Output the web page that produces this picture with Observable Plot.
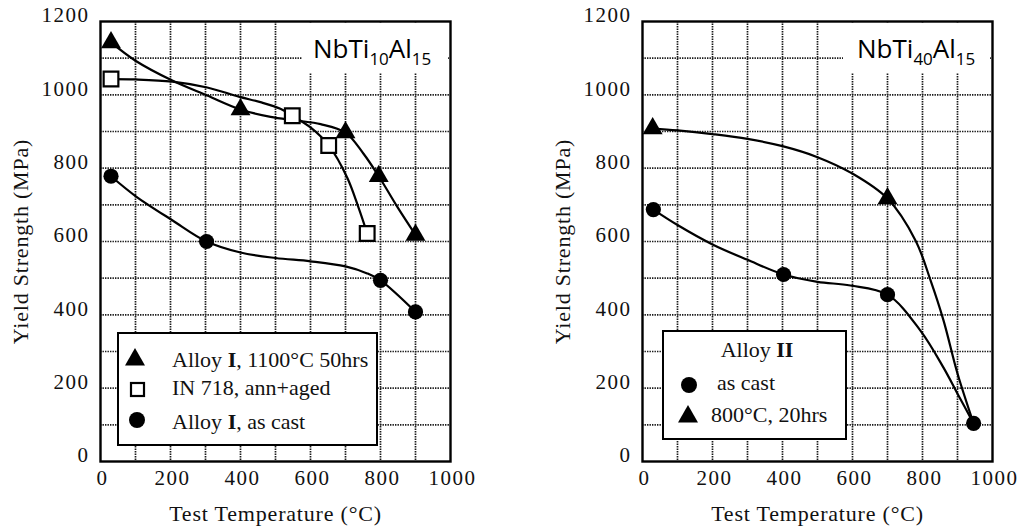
<!DOCTYPE html>
<html><head><meta charset="utf-8">
<script src="https://cdn.jsdelivr.net/npm/d3@7"></script>
<script src="https://cdn.jsdelivr.net/npm/@observablehq/plot@0.6"></script>
<style>
body{margin:0;background:#fff;}
#wrap{position:relative;width:1021px;height:531px;display:flex;overflow:hidden;}
#wrap svg{display:block;}
#wrap svg text{letter-spacing:1.5px;font-family:"Liberation Serif","Times New Roman",serif !important;}
#wrap g[aria-label$="axis label"] text{font-size:22px;letter-spacing:0.8px;}
.legend{position:absolute;box-sizing:border-box;border:2.5px solid #000;background:#fff;
  font-family:"Liberation Serif","Times New Roman",serif;font-size:22px;color:#111;}
.legend .row{position:absolute;white-space:nowrap;line-height:22px;height:22px;}
.legend svg.sym{position:absolute;overflow:visible;}
.tbox{position:absolute;background:#fff;}
.ttext{position:absolute;font-family:"Open Sans",sans-serif;font-size:26px;line-height:26px;color:#000;white-space:nowrap;}
.ttext sub{font-size:17px;vertical-align:-7px;line-height:0;}
</style></head><body><div id="wrap"></div>
<script>
// ---------- Data (Test Temperature °C, Yield Strength MPa) ----------
// Left panel: NbTi10Al15
const leftTriT = [30, 400, 700, 795, 900];          // Alloy I, 1100°C 50hrs
const leftTriV = [1143, 960, 897, 778, 618];
const leftSqT = [30, 548, 652, 762];                 // IN 718, ann+aged
const leftSqV = [1043, 943, 862, 622];
const leftCirT = [30, 303, 800, 900];                // Alloy I, as cast
const leftCirV = [778, 600, 494, 408];
// fitted curves
const leftTriCurveT = [30, 100, 205, 305, 400, 486, 560, 629, 700, 751, 795, 849, 900];
const leftTriCurveV = [1143, 1093, 1039, 998, 960, 940, 930, 920, 897, 840, 778, 693, 618];
const leftSqCurveT = [30, 100, 205, 305, 395, 457, 514, 548, 600, 652, 705, 737, 762];
const leftSqCurveV = [1043, 1042, 1036, 1020, 995, 980, 962, 943, 911, 862, 774, 693, 622];
const leftCirCurveT = [30, 100, 205, 303, 400, 500, 600, 700, 762, 800, 900];
const leftCirCurveV = [778, 724, 658, 600, 570, 555, 546, 532, 513, 494, 408];

// Right panel: NbTi40Al15 (Alloy II)
const rightCirT = [31, 403, 700, 946];               // as cast
const rightCirV = [687, 510, 455, 104];
const rightTriT = [29, 700];                         // 800°C, 20hrs
const rightTriV = [908, 717];
const rightCirCurveT = [31, 100, 200, 300, 403, 500, 594, 700, 794, 860, 900, 946];
const rightCirCurveV = [687, 645, 592, 550, 510, 490, 480, 455, 357, 256, 185, 104];
const rightTriCurveT = [29, 100, 200, 300, 400, 500, 600, 700, 780, 823, 860, 900, 946];
const rightTriCurveV = [908, 903, 893, 880, 860, 830, 785, 717, 603, 494, 385, 240, 104];

// Axes
const xTicks = [0, 200, 400, 600, 800, 1000];
const yTicks = [0, 200, 400, 600, 800, 1000, 1200];
const xGrid = [100, 200, 300, 400, 500, 600, 700, 800, 900];
const yGrid = [100, 200, 300, 400, 500, 600, 700, 800, 900, 1000, 1100];

const pts = (T, V) => T.map((t, i) => ({t, v: V[i]}));

function panel({width, marginLeft, marginRight, curves, tri, sq, cir}) {
  const marks = [
    Plot.ruleX(xGrid, {stroke: "#1a1a1a", strokeWidth: 1.7, strokeDasharray: "1.4,1.1"}),
    Plot.ruleY(yGrid, {stroke: "#1a1a1a", strokeWidth: 1.7, strokeDasharray: "1.4,1.1"}),
    Plot.frame({stroke: "#000", strokeWidth: 2.4}),
    Plot.axisX({ticks: xTicks, tickSize: 0, tickPadding: 9, dx: 2, fontSize: 21, tickFormat: d => String(d),
      label: "Test Temperature (°C)", labelAnchor: "center", labelOffset: 59, labelArrow: "none"}),
    Plot.axisY({ticks: yTicks, tickSize: 0, tickPadding: 11, dy: -6, fontSize: 21, tickFormat: d => String(d),
      label: "Yield Strength (MPa)", labelAnchor: "center", labelOffset: 88, labelArrow: "none"}),
    ...curves.map(c => Plot.line(c, {x: "t", y: "v", curve: "catmull-rom", stroke: "#000", strokeWidth: 2.2}))
  ];
  if (sq) marks.push(Plot.dot(sq, {x: "t", y: "v", symbol: "square", r: 8.3, fill: "#fff", stroke: "#000", strokeWidth: 2.2}));
  if (tri) marks.push(Plot.dot(tri, {x: "t", y: "v", symbol: "triangle", r: 7.4, fill: "#000", stroke: "none"}));
  if (cir) marks.push(Plot.dot(cir, {x: "t", y: "v", symbol: "circle", r: 7.6, fill: "#000", stroke: "none"}));
  return Plot.plot({
    width, height: 531, marginTop: 21, marginBottom: 70, marginLeft, marginRight,
    x: {domain: [0, 1000]}, y: {domain: [0, 1200]},
    style: {fontFamily: "'Liberation Serif','Times New Roman',serif", fontSize: "21px", color: "#111", background: "#fff"},
    marks
  });
}

const wrap = document.getElementById("wrap");
wrap.appendChild(panel({
  width: 520, marginLeft: 100, marginRight: 70,
  curves: [pts(leftTriCurveT, leftTriCurveV), pts(leftSqCurveT, leftSqCurveV), pts(leftCirCurveT, leftCirCurveV)],
  tri: pts(leftTriT, leftTriV), sq: pts(leftSqT, leftSqV), cir: pts(leftCirT, leftCirV)
}));
wrap.appendChild(panel({
  width: 501, marginLeft: 122, marginRight: 29,
  curves: [pts(rightTriCurveT, rightTriCurveV), pts(rightCirCurveT, rightCirCurveV)],
  tri: pts(rightTriT, rightTriV), cir: pts(rightCirT, rightCirV)
}));

// ---------- Legends and panel titles (HTML overlays) ----------
const symSvg = (kind, size) => {
  const h = size, w = size;
  let shape;
  if (kind === "triangle") shape = `<polygon points="${w/2},0 ${w},${h*0.87} 0,${h*0.87}" fill="#000"/>`;
  else if (kind === "square") shape = `<rect x="1" y="1" width="${w-2}" height="${h-2}" fill="#fff" stroke="#000" stroke-width="2.2"/>`;
  else shape = `<circle cx="${w/2}" cy="${h/2}" r="${w/2}" fill="#000"/>`;
  return `<svg class="sym" width="${w}" height="${h}" style="left:${-w/2}px;top:${-h/2}px">${shape}</svg>`;
};
function addLegend(box, rows) {
  const d = document.createElement("div");
  d.className = "legend";
  Object.assign(d.style, {left: box[0] + "px", top: box[1] + "px", width: box[2] + "px", height: box[3] + "px"});
  for (const r of rows) {
    if (r.sym) {
      const s = document.createElement("div");
      s.style.position = "absolute"; s.style.left = r.sx + "px"; s.style.top = r.sy + "px";
      s.innerHTML = symSvg(r.sym, r.size);
      d.appendChild(s);
    }
    const t = document.createElement("div");
    t.className = "row";
    t.style.left = r.tx + "px"; t.style.top = (r.ty - 11) + "px";
    if (r.center) { t.style.transform = "translateX(-50%)"; }
    t.innerHTML = r.html;
    d.appendChild(t);
  }
  wrap.appendChild(d);
}
addLegend([117, 332, 261, 114], [
  {sym: "triangle", size: 20, sx: 16, sy: 24, tx: 53, ty: 26, html: "Alloy <b>I</b>, 1100°C 50hrs"},
  {sym: "square", size: 15, sx: 18, sy: 55, tx: 53, ty: 54, html: "IN 718, ann+aged"},
  {sym: "circle", size: 16, sx: 18, sy: 86, tx: 53, ty: 88, html: "Alloy <b>I</b>, as cast"}
]);
addLegend([662, 330, 185, 110], [
  {tx: 93, ty: 18, center: true, html: "Alloy <b>II</b>"},
  {sym: "circle", size: 16, sx: 25, sy: 53, tx: 53, ty: 51, html: "as cast"},
  {sym: "triangle", size: 20, sx: 24, sy: 83, tx: 47, ty: 83, html: "800°C, 20hrs"}
]);
function addTitle(box, tx, html) {
  const b = document.createElement("div");
  b.className = "tbox";
  Object.assign(b.style, {left: box[0] + "px", top: box[1] + "px", width: box[2] + "px", height: box[3] + "px"});
  wrap.appendChild(b);
  const t = document.createElement("div");
  t.className = "ttext";
  t.style.left = tx + "px"; t.style.top = "35px";
  t.innerHTML = html;
  wrap.appendChild(t);
}
addTitle([302, 23, 146, 50], 313, "NbTi<sub>10</sub>Al<sub>15</sub>");
addTitle([843, 23, 147, 50], 857, "NbTi<sub>40</sub>Al<sub>15</sub>");
</script></body></html>
